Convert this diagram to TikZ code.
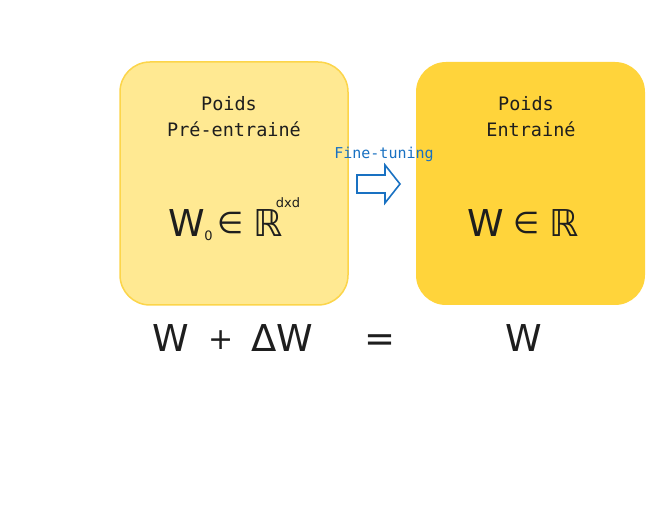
\documentclass[tikz,border=0pt]{standalone}
\usepackage{fontspec}
\setmainfont{DejaVu Sans}
\newfontfamily\monof{DejaVu Sans Mono}
\definecolor{lightbox}{HTML}{FFE992}
\definecolor{boxstroke}{HTML}{FCD54A}
\definecolor{darkbox}{HTML}{FFD43B}
\definecolor{arrowblue}{HTML}{1971C2}
\definecolor{ink}{HTML}{1E1E1E}
\tikzset{
  labeltxt/.style={font=\monof\fontsize{18.5}{21}\selectfont, text=ink, inner sep=0pt, align=center},
  mathtxt/.style={font=\fontsize{37}{40}\selectfont, text=ink, inner sep=0pt},
  smalltxt/.style={font=\fontsize{13}{15}\selectfont, text=ink, inner sep=0pt},
}
\begin{document}
\begin{tikzpicture}[x=1pt,y=-1pt]
\useasboundingbox (0,0) rectangle (654,521);
\fill[white] (0,0) rectangle (654,521);
% boxes
\draw[fill=lightbox, draw=boxstroke, line width=1.5pt, rounded corners=30pt] (120,62) rectangle (348,305);
\path[fill=darkbox, rounded corners=30pt] (416,62) rectangle (645,305);
% labels
\node[labeltxt] (l1) at (229,104) {Poids};
\node[labeltxt] (l2) at (234,129) {Pré-entrainé};
\node[labeltxt] (r1) at (526,104) {Poids};
\node[labeltxt] (r2) at (531,129) {Entrainé};
% fine-tuning
\node[font=\monof\fontsize{15}{17}\selectfont, text=arrowblue, inner sep=0pt] (ft) at (384,154) {Fine-tuning};
\draw[arrowblue, line width=1.6pt, line join=miter] (357,175) -- (385,175) -- (385,165) -- (400,184) -- (385,203) -- (385,193) -- (357,193) -- cycle;
% left math
\node[mathtxt, anchor=base] (w0) at (187,237) {W};
\node[smalltxt, anchor=base] (w0s) at (208.5,241) {0};
\node[mathtxt, anchor=base] (in1) at (231,234) {\fontsize{30}{32}\selectfont ∈};
\node[mathtxt, anchor=base] (R1) at (268,237) {ℝ};
\node[smalltxt, anchor=base] (dxd) at (288,208) {dxd};
% right math
\node[mathtxt, anchor=base] (w1) at (485.5,237) {W};
\node[mathtxt, anchor=base] (in2) at (527,234) {\fontsize{30}{32}\selectfont ∈};
\node[mathtxt, anchor=base] (R2) at (564,237) {ℝ};
% bottom equation
\node[mathtxt, anchor=base] (bw) at (171,352) {W};
\node[mathtxt, anchor=base] (plus) at (221,350) {\fontsize{30}{32}\selectfont +};
\node[mathtxt, anchor=base] (dw) at (282,352) {ΔW};
\node[mathtxt, anchor=base] (eq) at (380,352) {=};
\node[mathtxt, anchor=base] (rw) at (524,352) {W};
\end{tikzpicture}
\end{document}
